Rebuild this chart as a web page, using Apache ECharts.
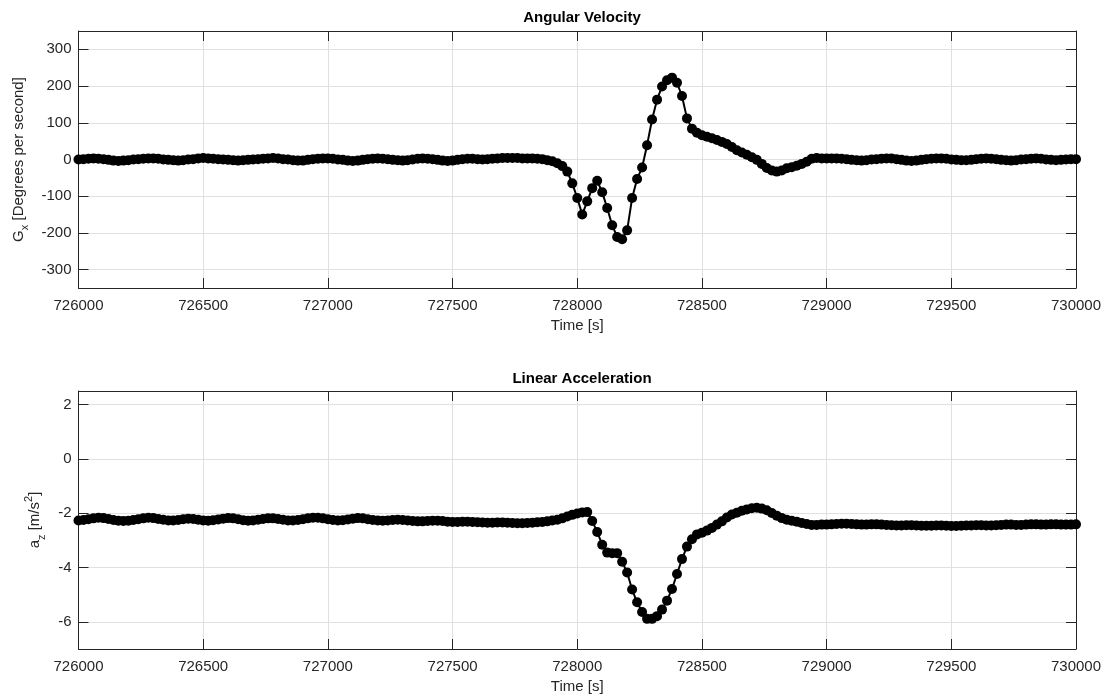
<!DOCTYPE html>
<html>
<head>
<meta charset="utf-8">
<script src="https://cdn.jsdelivr.net/npm/echarts@6/dist/echarts.min.js"></script>
<style>
  html, body { margin: 0; padding: 0; background: #fff; }
  #chart { width: 1111px; height: 700px; }
</style>
</head>
<body>
<div id="chart"></div>
<script>
// sample times [s]
const time = [
    726000, 726020, 726040, 726060, 726080, 726100, 726120, 726140, 726160, 726180,
    726200, 726220, 726240, 726260, 726280, 726300, 726320, 726340, 726360, 726380,
    726400, 726420, 726440, 726460, 726480, 726500, 726520, 726540, 726560, 726580,
    726600, 726620, 726640, 726660, 726680, 726700, 726720, 726740, 726760, 726780,
    726800, 726820, 726840, 726860, 726880, 726900, 726920, 726940, 726960, 726980,
    727000, 727020, 727040, 727060, 727080, 727100, 727120, 727140, 727160, 727180,
    727200, 727220, 727240, 727260, 727280, 727300, 727320, 727340, 727360, 727380,
    727400, 727420, 727440, 727460, 727480, 727500, 727520, 727540, 727560, 727580,
    727600, 727620, 727640, 727660, 727680, 727700, 727720, 727740, 727760, 727780,
    727800, 727820, 727840, 727860, 727880, 727900, 727920, 727940, 727960, 727980,
    728000, 728020, 728040, 728060, 728080, 728100, 728120, 728140, 728160, 728180,
    728200, 728220, 728240, 728260, 728280, 728300, 728320, 728340, 728360, 728380,
    728400, 728420, 728440, 728460, 728480, 728500, 728520, 728540, 728560, 728580,
    728600, 728620, 728640, 728660, 728680, 728700, 728720, 728740, 728760, 728780,
    728800, 728820, 728840, 728860, 728880, 728900, 728920, 728940, 728960, 728980,
    729000, 729020, 729040, 729060, 729080, 729100, 729120, 729140, 729160, 729180,
    729200, 729220, 729240, 729260, 729280, 729300, 729320, 729340, 729360, 729380,
    729400, 729420, 729440, 729460, 729480, 729500, 729520, 729540, 729560, 729580,
    729600, 729620, 729640, 729660, 729680, 729700, 729720, 729740, 729760, 729780,
    729800, 729820, 729840, 729860, 729880, 729900, 729920, 729940, 729960, 729980,
    730000
];

// angular velocity G_x [deg/s]
const gyroX = [
    0, 1, 2, 3, 2, 1, -1, -3, -4, -3,
    -2, 0, 1, 2, 3, 3, 2, 0, -1, -2,
    -3, -2, 0, 1, 3, 4, 3, 2, 1, 0,
    -1, -2, -3, -2, -1, 0, 1, 2, 3, 4,
    3, 1, 0, -2, -3, -3, -1, 1, 2, 3,
    3, 2, 0, -1, -3, -4, -3, -1, 1, 2,
    3, 2, 1, -1, -2, -3, -2, 0, 2, 3,
    2, 1, -1, -3, -4, -3, -1, 1, 2, 2,
    1, 0, 1, 2, 3, 4, 4, 4, 4, 3,
    3, 3, 2, 1, -2, -5, -10, -18, -33, -65,
    -105, -150, -114, -78, -58, -89, -132, -179, -211, -217,
    -193, -105, -53, -22, 39, 109, 163, 199, 216, 223,
    209, 173, 112, 84, 73, 66, 62, 58, 53, 48,
    42, 34, 25, 19, 13, 6, -1, -12, -23, -30,
    -33, -30, -24, -21, -17, -12, -6, 2, 4, 3,
    3, 3, 3, 2, 1, -1, -2, -3, -2, 0,
    1, 2, 3, 3, 1, -1, -3, -4, -3, -1,
    1, 2, 3, 3, 2, 0, -1, -2, -2, -1,
    1, 2, 3, 2, 1, -1, -2, -3, -2, 0,
    1, 2, 3, 2, 0, -1, -2, -1, 0, 1,
    1
];

// linear acceleration a_z [m/s^2]
const accZ = [
    -2.27, -2.25, -2.22, -2.19, -2.17, -2.18, -2.21, -2.25, -2.28, -2.29,
    -2.28, -2.25, -2.22, -2.19, -2.17, -2.18, -2.21, -2.24, -2.27, -2.27,
    -2.25, -2.22, -2.20, -2.21, -2.24, -2.27, -2.28, -2.26, -2.23, -2.20,
    -2.18, -2.19, -2.22, -2.26, -2.28, -2.27, -2.24, -2.21, -2.19, -2.19,
    -2.21, -2.24, -2.27, -2.27, -2.25, -2.22, -2.19, -2.17, -2.17, -2.19,
    -2.22, -2.25, -2.27, -2.26, -2.23, -2.20, -2.18, -2.19, -2.22, -2.25,
    -2.27, -2.28, -2.27, -2.25, -2.24, -2.25, -2.27, -2.29, -2.30, -2.30,
    -2.29, -2.28, -2.28, -2.29, -2.31, -2.32, -2.32, -2.31, -2.31, -2.32,
    -2.33, -2.34, -2.35, -2.35, -2.34, -2.34, -2.35, -2.36, -2.37, -2.37,
    -2.36, -2.35, -2.33, -2.32, -2.30, -2.27, -2.24, -2.19, -2.12, -2.06,
    -2.01, -1.97, -1.96, -2.29, -2.69, -3.16, -3.45, -3.47, -3.47, -3.79,
    -4.18, -4.81, -5.28, -5.64, -5.89, -5.89, -5.79, -5.55, -5.22, -4.79,
    -4.24, -3.69, -3.23, -2.96, -2.78, -2.72, -2.64, -2.54, -2.42, -2.30,
    -2.16, -2.05, -1.98, -1.91, -1.86, -1.82, -1.80, -1.83, -1.89, -1.99,
    -2.09, -2.18, -2.24, -2.28, -2.31, -2.36, -2.40, -2.43, -2.43, -2.42,
    -2.42, -2.41, -2.40, -2.39, -2.39, -2.40, -2.41, -2.42, -2.42, -2.41,
    -2.41, -2.42, -2.43, -2.44, -2.45, -2.45, -2.44, -2.44, -2.45, -2.46,
    -2.46, -2.46, -2.45, -2.45, -2.46, -2.47, -2.47, -2.46, -2.45, -2.45,
    -2.44, -2.44, -2.45, -2.45, -2.44, -2.43, -2.42, -2.42, -2.43, -2.43,
    -2.42, -2.41, -2.41, -2.42, -2.42, -2.41, -2.41, -2.42, -2.42, -2.42,
    -2.41
];

// tick labels
const gyroTicks = [-300, -200, -100, 0, 100, 200, 300];
const accTicks = [-6, -4, -2, 0, 2];

const FONT = 'Liberation Sans, Helvetica, Arial, sans-serif';
const AXIS_COLOR = '#262626';
const GRID_COLOR = '#e0e0e0';

const chart = echarts.init(document.getElementById('chart'), null, {renderer: 'canvas'});

function timeAxis(gridIndex, top) {
    return {
        type: 'value',
        gridIndex: gridIndex,
        position: top ? 'top' : 'bottom',
        min: 726000,
        max: 730000,
        interval: 500,
        name: top ? '' : 'Time [s]',
        nameLocation: 'middle',
        nameGap: 30,
        nameTextStyle: {color: AXIS_COLOR, fontSize: 15, fontFamily: FONT},
        axisLine: {show: true, onZero: false, lineStyle: {color: AXIS_COLOR, width: 1}},
        axisTick: {show: true, inside: true, length: 10, lineStyle: {color: AXIS_COLOR}},
        axisLabel: {
            show: !top, color: AXIS_COLOR, fontSize: 15, fontFamily: FONT, margin: 10,
            formatter: v => String(v)
        },
        splitLine: {show: !top, lineStyle: {color: GRID_COLOR, width: 1}}
    };
}

function valueAxis(gridIndex, right, min, max, ticks, name, gap) {
    return {
        type: 'value',
        gridIndex: gridIndex,
        position: right ? 'right' : 'left',
        min: min,
        max: max,
        name: right ? '' : name,
        nameLocation: 'middle',
        nameGap: gap,
        nameRotate: 90,
        nameTextStyle: {
            color: AXIS_COLOR, fontSize: 15, fontFamily: FONT,
            rich: {
                n: {fontSize: 15, fontFamily: FONT, color: AXIS_COLOR, lineHeight: 24, verticalAlign: 'middle'},
                sub: {fontSize: 11, fontFamily: FONT, color: AXIS_COLOR, lineHeight: 11, verticalAlign: 'bottom'},
                sup: {fontSize: 11, fontFamily: FONT, color: AXIS_COLOR, lineHeight: 11, verticalAlign: 'top'}
            }
        },
        axisLine: {show: true, onZero: false, lineStyle: {color: AXIS_COLOR, width: 1}},
        axisTick: {show: true, inside: true, length: 10, customValues: ticks, lineStyle: {color: AXIS_COLOR}},
        axisLabel: {show: !right, customValues: ticks, color: AXIS_COLOR, fontSize: 15, fontFamily: FONT, margin: 7},
        splitLine: {show: !right, lineStyle: {color: GRID_COLOR, width: 1}}
    };
}

const dotSeries = (xi, yi, values) => ({
    type: 'line',
    xAxisIndex: xi,
    yAxisIndex: yi,
    data: time.map((t, i) => [t, values[i]]),
    symbol: 'circle',
    symbolSize: 10,
    showAllSymbol: true,
    itemStyle: {color: '#000'},
    lineStyle: {color: '#000', width: 2},
    emphasis: {disabled: true}
});

const option = {
    animation: false,
    backgroundColor: '#fff',
    title: [
        {
            text: 'Angular Velocity', left: 577, top: 5, textAlign: 'center',
            textStyle: {fontSize: 15, fontWeight: 'bold', color: '#000', fontFamily: FONT}
        },
        {
            text: 'Linear Acceleration', left: 577, top: 366, textAlign: 'center',
            textStyle: {fontSize: 15, fontWeight: 'bold', color: '#000', fontFamily: FONT}
        }
    ],
    grid: [
        {left: 78.5, right: 35, top: 31, height: 257, outerBoundsMode: 'none'},
        {left: 78.5, right: 35, top: 391, height: 258, outerBoundsMode: 'none'}
    ],
    xAxis: [
        timeAxis(0, false),
        timeAxis(0, true),
        timeAxis(1, false),
        timeAxis(1, true)
    ],
    yAxis: [
        valueAxis(0, false, -350, 350, gyroTicks, '{n|G}{sub|x}{n| [Degrees per second]}', 47),
        valueAxis(0, true, -350, 350, gyroTicks, '', 0),
        valueAxis(1, false, -7, 2.5, accTicks, '{n|a}{sub|z}{n| [m/s}{sup|2}{n|]}', 28),
        valueAxis(1, true, -7, 2.5, accTicks, '', 0)
    ],
    series: [
        dotSeries(0, 0, gyroX),
        dotSeries(2, 2, accZ)
    ]
};

chart.setOption(option);
</script>
</body>
</html>
